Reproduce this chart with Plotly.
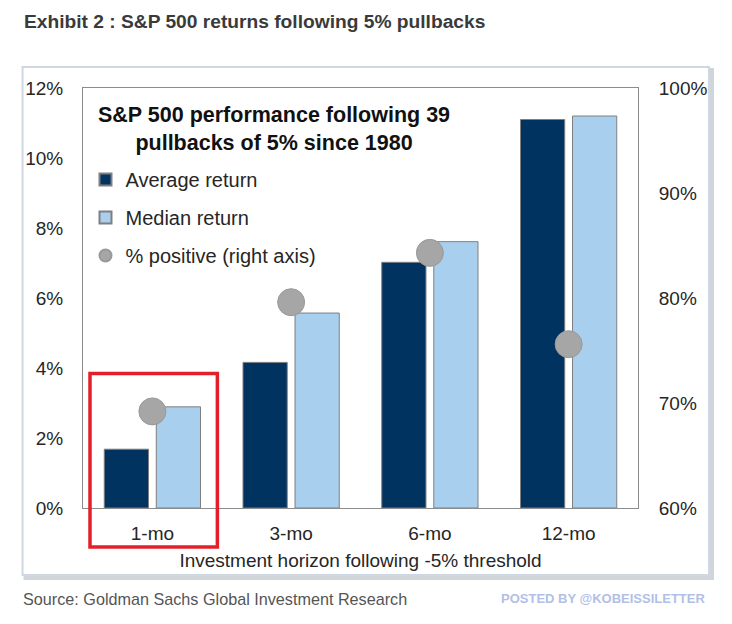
import plotly.graph_objects as go

# valori
horizons = ["1-mo", "3-mo", "6-mo", "12-mo"]
avg_return = [1.68, 4.16, 7.02, 11.10]      # % (asse sinistro)
median_return = [2.89, 5.57, 7.61, 11.20]   # % (asse sinistro)
pct_positive = [69.2, 79.6, 84.3, 75.6]     # % (asse destro)

left_ticks = [0, 2, 4, 6, 8, 10, 12]
left_labels = ["0%", "2%", "4%", "6%", "8%", "10%", "12%"]
right_ticks = [60, 70, 80, 90, 100]
right_labels = ["60%", "70%", "80%", "90%", "100%"]

DARK = "#003360"
LIGHT = "#a9cfee"
DOT = "#a6a6a6"
FONT = "Liberation Sans, Arial, sans-serif"

# la pagina ha 8px di margine: le posizioni sotto sono in pixel della finestra
OFF = 8
L, R, T, B = 82.5, 638, 88, 508
W, H = R - L, B - T


def px(x):
    return (x - L) / W


def py(y):
    return (B - y) / H


fig = go.Figure()
fig.add_trace(go.Bar(
    x=horizons, y=avg_return, name="Average return", legendgroup="a",
    marker=dict(color=DARK, line=dict(color="#7f7f7f", width=1)),
))
fig.add_trace(go.Bar(
    x=horizons, y=median_return, name="Median return", legendgroup="b",
    marker=dict(color=LIGHT, line=dict(color="#7f7f7f", width=1)),
))
fig.add_trace(go.Scatter(
    x=horizons, y=pct_positive, name="% positive (right axis)", legendgroup="c",
    mode="markers", yaxis="y2",
    marker=dict(color=DOT, size=27, line=dict(color="#999999", width=1)),
))

fig.update_layout(
    width=732, height=624, autosize=False,
    margin=dict(l=L - OFF, r=732 - (R - OFF), t=T - OFF, b=624 - (B - OFF)),
    paper_bgcolor="white", plot_bgcolor="white",
    barmode="group", bargap=0.25, bargroupgap=0.15,
    font=dict(family=FONT, size=19, color="#262626"),
    xaxis=dict(
        showline=True, linecolor="#8c8c8c", linewidth=1, mirror=True,
        ticks="outside", ticklen=8, tickcolor="rgba(0,0,0,0)",
        tickfont=dict(size=19),
        title=dict(text="Investment horizon following -5% threshold",
                   font=dict(size=19), standoff=10),
    ),
    yaxis=dict(
        range=[0, 12], tickvals=left_ticks, ticktext=left_labels,
        showgrid=False, zeroline=False,
        showline=True, linecolor="#8c8c8c", linewidth=1, mirror=True,
        ticks="outside", ticklen=15, tickcolor="rgba(0,0,0,0)",
        tickfont=dict(size=19),
    ),
    yaxis2=dict(
        range=[60, 100], tickvals=right_ticks, ticktext=right_labels,
        overlaying="y", side="right", showgrid=False, zeroline=False,
        ticks="outside", ticklen=16, tickcolor="rgba(0,0,0,0)",
        tickfont=dict(size=19),
    ),
    showlegend=True,
    legend=dict(
        x=px(85), y=py(160), xanchor="left", yanchor="top",
        bgcolor="rgba(0,0,0,0)", font=dict(size=20, color="#262626"),
        tracegroupgap=9, itemsizing="constant", itemwidth=30,
    ),
)

# cornice esterna con ombra
fig.add_shape(type="rect", xref="paper", yref="paper", layer="below",
              x0=px(25), x1=px(712), y0=py(578), y1=py(70),
              line=dict(color="rgba(150,160,175,0.45)", width=4))
fig.add_shape(type="rect", xref="paper", yref="paper", layer="below",
              x0=px(22), x1=px(709), y0=py(575), y1=py(67),
              fillcolor="white", line=dict(color="#cfd7e3", width=2))

# riquadro rosso attorno a 1-mo
fig.add_shape(type="rect", xref="paper", yref="paper", layer="above",
              x0=px(89.5), x1=px(217), y0=py(547), y1=py(373.5),
              line=dict(color="#e3202a", width=3.5))

fig.add_annotation(
    xref="paper", yref="paper", x=px(274), y=py(129),
    text="<b>S&P 500 performance following 39<br>pullbacks of 5% since 1980</b>",
    showarrow=False, xanchor="center", yanchor="middle",
    font=dict(family=FONT, size=21.5, color="#111111"),
)
fig.add_annotation(
    xref="paper", yref="paper", x=px(21), y=py(22),
    text="<b>Exhibit 2 : S&P 500 returns following 5% pullbacks</b>",
    showarrow=False, xanchor="left", yanchor="middle",
    font=dict(family=FONT, size=19.2, color="#3a3a3a"),
)
fig.add_annotation(
    xref="paper", yref="paper", x=px(20), y=py(599),
    text="Source: Goldman Sachs Global Investment Research",
    showarrow=False, xanchor="left", yanchor="middle",
    font=dict(family=FONT, size=16.2, color="#555555"),
)
fig.add_annotation(
    xref="paper", yref="paper", x=px(707), y=py(598),
    text="<b>POSTED BY @KOBEISSILETTER</b>",
    showarrow=False, xanchor="right", yanchor="middle",
    font=dict(family=FONT, size=13, color="#b2bfe6"),
)

fig.write_html("out.html")
